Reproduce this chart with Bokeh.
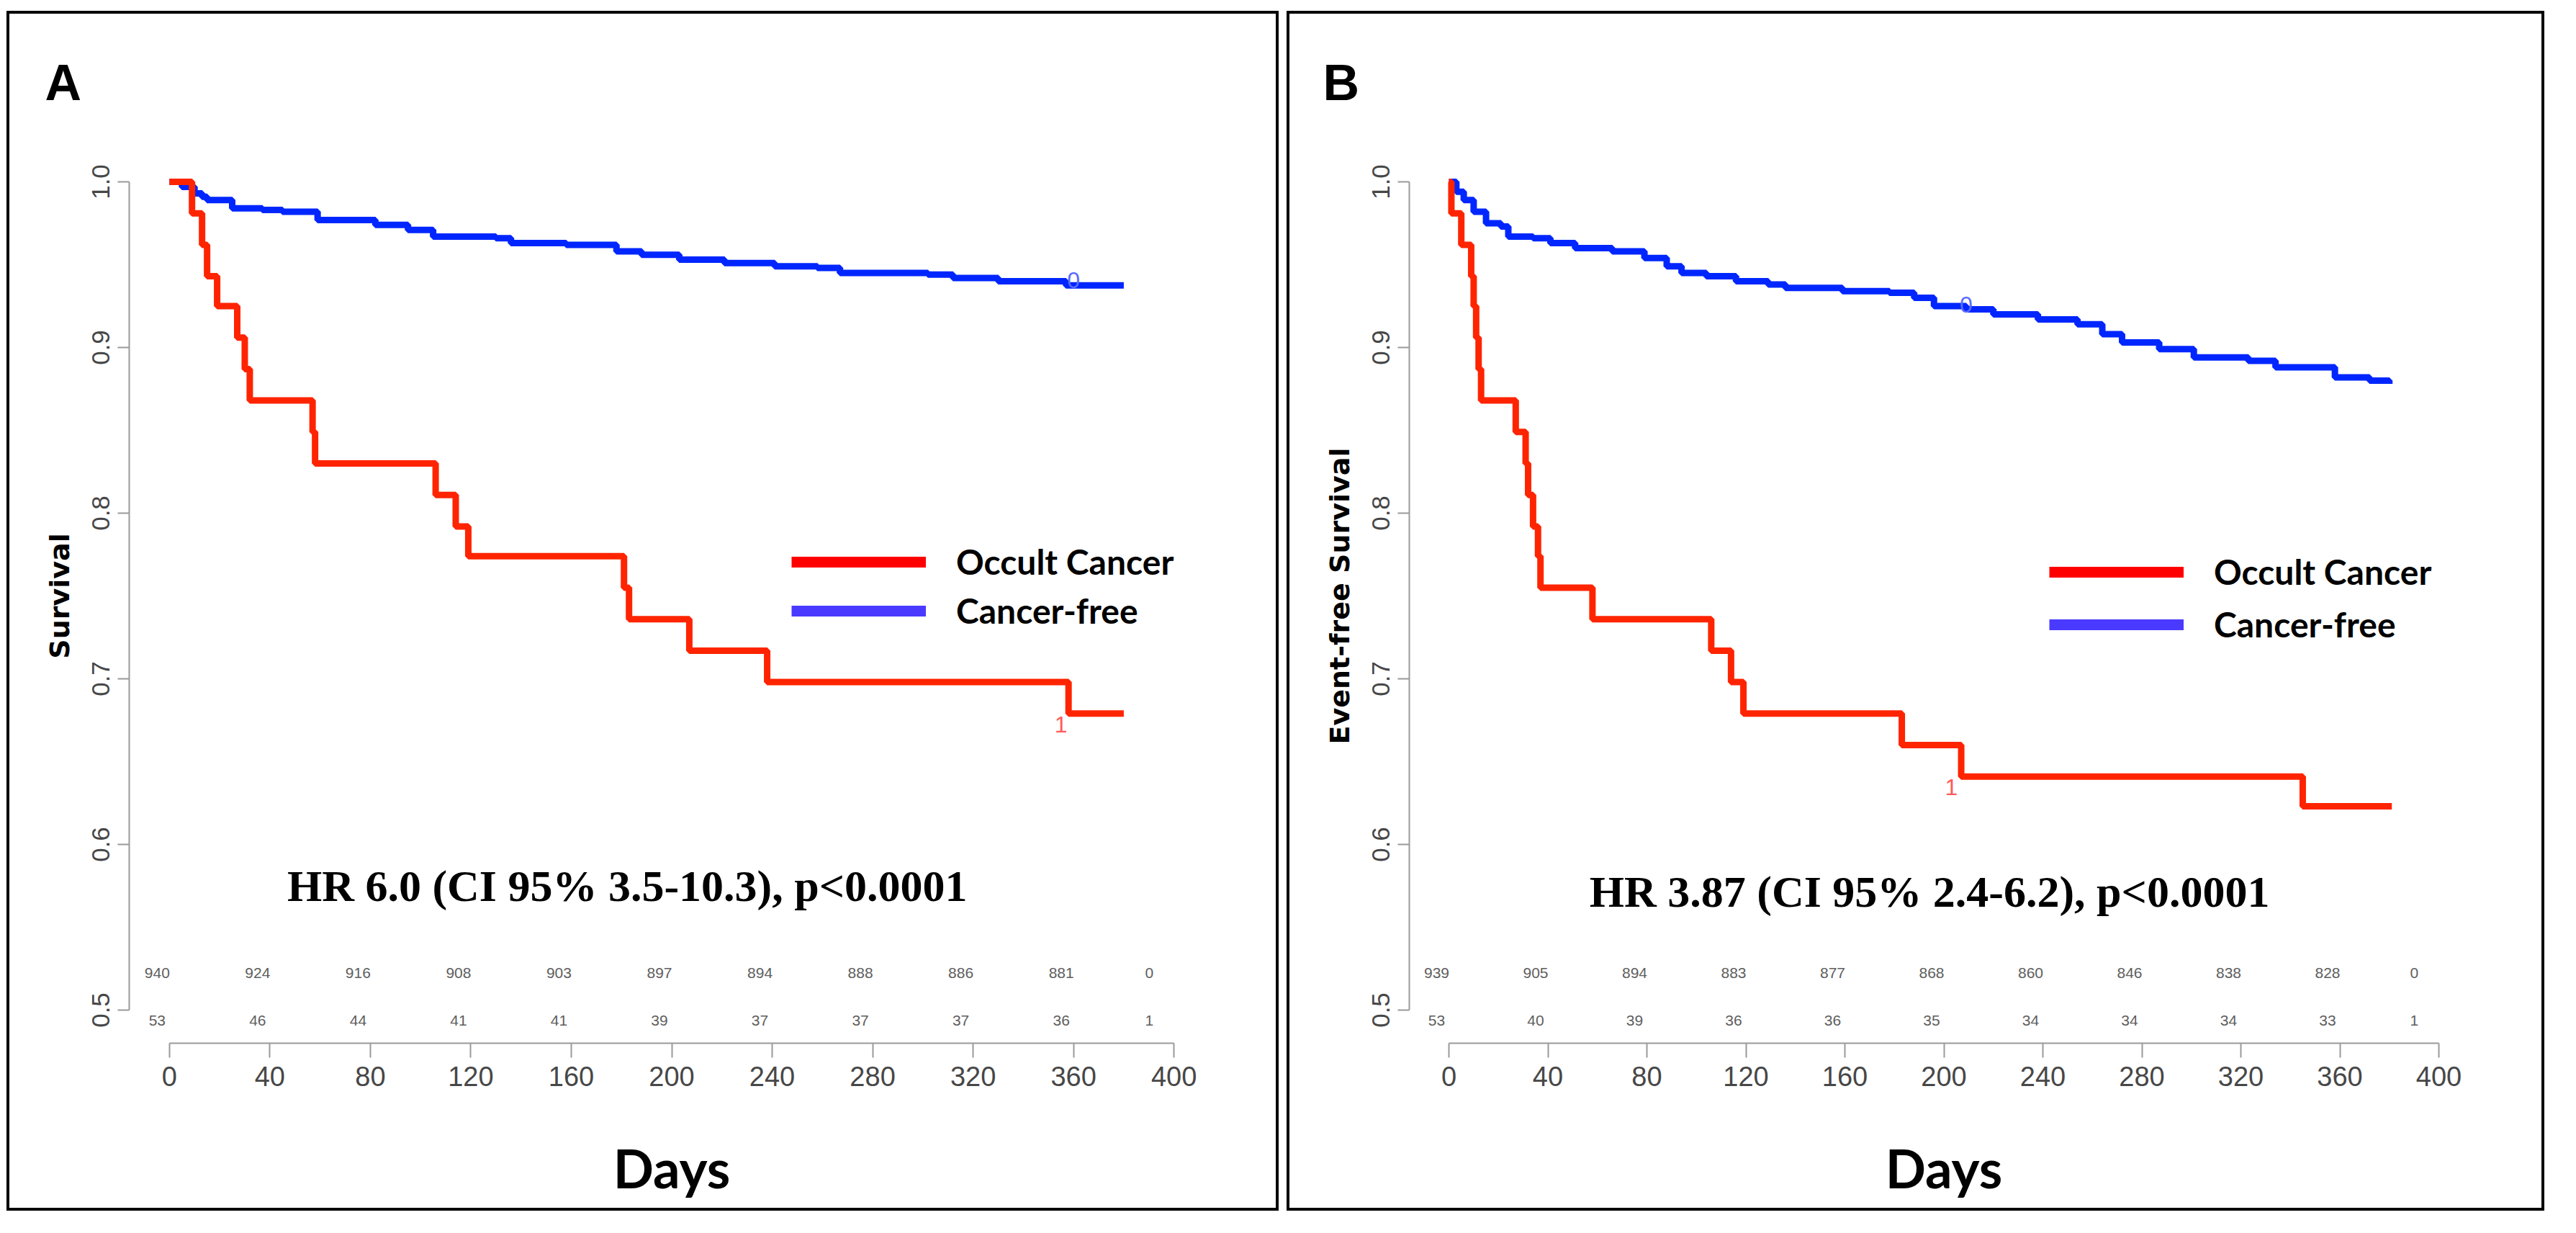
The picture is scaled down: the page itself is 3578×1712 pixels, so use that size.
from bokeh.plotting import figure
from bokeh.models import Range1d, FixedTicker, PrintfTickFormatter, Label, Legend, LegendItem, ColumnDataSource
from bokeh.layouts import row
from bokeh.embed import file_html
from bokeh.resources import INLINE
from bokeh.core.properties import value

# ---------------- data ----------------
day_ticks = [0, 40, 80, 120, 160, 200, 240, 280, 320, 360, 400]
surv_ticks = [0.5, 0.6, 0.7, 0.8, 0.9, 1.0]
risk_days = [0, 40, 80, 120, 160, 200, 240, 280, 320, 360, 395]
series_names = ["Occult Cancer", "Cancer-free"]

# Panel A : overall survival
a_occult_days = [0, 9, 13, 15, 19, 27, 30, 32, 57, 58, 106, 114, 119, 181, 183, 207, 238, 358, 380]
a_occult_surv = [1.0, 0.981, 0.962, 0.943, 0.925, 0.906, 0.887, 0.868, 0.849, 0.830,
                 0.811, 0.792, 0.774, 0.755, 0.736, 0.717, 0.698, 0.679, 0.679]
a_free_days = [0, 5, 10, 13, 15, 25, 37, 45, 59, 82, 95, 105, 130, 136, 158, 178, 188,
               203, 221, 241, 258, 267, 302, 312, 330, 357, 380]
a_free_surv = [1.0, 0.997, 0.993, 0.991, 0.989, 0.984, 0.983, 0.982, 0.977, 0.974, 0.971,
               0.967, 0.966, 0.963, 0.962, 0.958, 0.956, 0.953, 0.951, 0.949, 0.948, 0.945,
               0.944, 0.942, 0.940, 0.9375, 0.9375]
a_risk_free = [940, 924, 916, 908, 903, 897, 894, 888, 886, 881, 0]
a_risk_occult = [53, 46, 44, 41, 41, 39, 37, 37, 37, 36, 1]
a_mark_free = (360, 0.9375)
a_mark_occult = (355, 0.679)
a_hr = "HR 6.0 (CI 95% 3.5-10.3), p<0.0001"

# Panel B : event-free survival
b_occult_days = [0, 1, 5, 9, 10, 11, 12, 13, 27, 31, 32, 34, 36, 37, 58, 106, 114, 119,
                 183, 207, 345, 381]
b_occult_surv = [1.0, 0.981, 0.962, 0.943, 0.925, 0.906, 0.887, 0.868, 0.849, 0.830, 0.811,
                 0.792, 0.774, 0.755, 0.736, 0.717, 0.698, 0.679, 0.660, 0.641, 0.623, 0.623]
b_free_days = [0, 3, 6, 10, 15, 21, 24, 34, 41, 51, 66, 79, 88, 94, 104, 116, 129, 136, 159,
               178, 188, 196, 209, 220, 238, 254, 264, 272, 287, 301, 323, 334, 358, 372, 380]
b_free_surv = [1.0, 0.994, 0.989, 0.982, 0.975, 0.973, 0.967, 0.966, 0.963, 0.960, 0.958,
               0.954, 0.949, 0.945, 0.943, 0.940, 0.938, 0.936, 0.934, 0.933, 0.930, 0.925,
               0.923, 0.920, 0.917, 0.914, 0.908, 0.903, 0.899, 0.894, 0.892, 0.888, 0.882,
               0.880, 0.878]
b_risk_free = [939, 905, 894, 883, 877, 868, 860, 846, 838, 828, 0]
b_risk_occult = [53, 40, 39, 36, 36, 35, 34, 34, 34, 33, 1]
b_mark_free = (209, 0.923)
b_mark_occult = (203, 0.641)
b_hr = "HR 3.87 (CI 95% 2.4-6.2), p<0.0001"

# ---------------- style ----------------
RED = "#ff2400"
BLUE = "#0026ff"
SANS = "Liberation Sans"


def make_panel(letter, ylabel, occ_d, occ_s, free_d, free_s, risk_free, risk_occ,
               mark_free, mark_occ, hr, hr_x, hr_y, width, right, leg_x, leg_y, leg_spacing,
               letter_offset):
    p = figure(width=width, height=1666, x_range=Range1d(-16, 416), y_range=Range1d(0.48, 1.02),
               output_backend="svg", toolbar_location=None,
               min_border_left=166, min_border_right=right, min_border_top=187,
               min_border_bottom=237)
    p.styles = {"border": "4px solid black"}
    p.grid.visible = False
    p.outline_line_color = None
    p.background_fill_color = "white"
    p.border_fill_color = "white"

    # panel letter as title
    p.title.text = letter
    p.title.align = "left"
    p.title.offset = letter_offset
    p.title.standoff = 105
    p.title.text_font = SANS
    p.title.text_font_style = "bold"
    p.title.text_font_size = "70px"
    p.title.text_color = "black"

    for ax in (p.xaxis[0], p.yaxis[0]):
        ax.axis_line_color = "#9a9a9a"
        ax.axis_line_width = 2
        ax.major_tick_line_color = "#9a9a9a"
        ax.major_tick_line_width = 2
        ax.major_tick_in = 0
        ax.minor_tick_line_color = None
        ax.major_label_text_color = "#474747"
        ax.major_label_text_font = SANS

    p.xaxis.ticker = FixedTicker(ticks=day_ticks)
    p.xaxis.bounds = (0, 400)
    p.xaxis.major_tick_out = 20
    p.xaxis.major_label_standoff = 12
    p.xaxis.major_label_text_font_size = "38px"
    p.xaxis.axis_label = "Days"
    p.xaxis.axis_label_text_font = "Lato"
    p.xaxis.axis_label_text_font_style = "bold"
    p.xaxis.axis_label_text_font_size = "74px"
    p.xaxis.axis_label_text_color = "black"
    p.xaxis.axis_label_standoff = 66

    p.yaxis.ticker = FixedTicker(ticks=surv_ticks)
    p.yaxis.formatter = PrintfTickFormatter(format="%.1f")
    p.yaxis.bounds = (0.5, 1.0)
    p.yaxis.major_tick_out = 16
    p.yaxis.major_label_standoff = 12
    p.yaxis.major_label_orientation = "vertical"
    p.yaxis.major_label_text_font_size = "35px"
    p.yaxis.axis_label = ylabel
    p.yaxis.axis_label_text_font = "DejaVu Sans"
    p.yaxis.axis_label_text_font_style = "bold"
    p.yaxis.axis_label_text_font_size = "38px"
    p.yaxis.axis_label_text_color = "black"
    p.yaxis.axis_label_standoff = 20

    # survival curves
    p.step(x=free_d, y=free_s, mode="after", line_color=BLUE, line_width=9)
    p.step(x=occ_d, y=occ_s, mode="after", line_color=RED, line_width=9)

    # curve marks
    p.text(x=[mark_free[0]], y=[mark_free[1]], text=["0"], text_color="#5a6cff",
           text_font=value(SANS), text_font_size="32px",
           text_align="center", text_baseline="alphabetic", y_offset=-7)
    p.text(x=[mark_occ[0]], y=[mark_occ[1]], text=["1"], text_color="#ff5a5a",
           text_font=value(SANS), text_font_size="32px",
           text_align="center", text_baseline="top", y_offset=4)

    # numbers at risk
    src = ColumnDataSource(dict(x=risk_days,
                                y1=[0.5226] * len(risk_days),
                                y2=[0.4939] * len(risk_days),
                                t1=[str(v) for v in risk_free],
                                t2=[str(v) for v in risk_occ]))
    for yk, tk in (("y1", "t1"), ("y2", "t2")):
        p.text(x="x", y=yk, text=tk, source=src, text_color="#5e5e5e",
               text_font=value(SANS), text_font_size="21px",
               text_align="center", text_baseline="alphabetic", x_offset=-17)

    # hazard ratio annotation
    p.add_layout(Label(x=hr_x, y=hr_y, text=hr, text_align="center", text_baseline="alphabetic",
                       text_font="Liberation Serif", text_font_style="bold",
                       text_font_size="62px", text_color="black"))

    # legend (proxy renderers carry the legend line style only)
    nan = float("nan")
    r_occ = p.line(x=[nan], y=[nan], line_color="#ff0000", line_width=15)
    r_free = p.line(x=[nan], y=[nan], line_color="#4a3aff", line_width=15)
    leg = Legend(items=[LegendItem(label=series_names[0], renderers=[r_occ]),
                        LegendItem(label=series_names[1], renderers=[r_free])],
                 location=(leg_x, leg_y), orientation="vertical",
                 glyph_width=187, glyph_height=56, label_height=56, label_standoff=42,
                 spacing=leg_spacing, padding=0, margin=0,
                 label_text_font="Lato", label_text_font_style="bold",
                 label_text_font_size="48px", label_text_color="black",
                 border_line_color=None, background_fill_alpha=0)
    p.add_layout(leg)
    return p


pA = make_panel("A", "Survival", a_occult_days, a_occult_surv, a_free_days, a_free_surv,
                a_risk_free, a_risk_occult, a_mark_free, a_mark_occult, a_hr, 182.3, 0.5748,
                1767, 94, 920, 572, 11, -117)
pB = make_panel("B", "Event-free Survival", b_occult_days, b_occult_surv, b_free_days,
                b_free_surv, b_risk_free, b_risk_occult, b_mark_free, b_mark_occult, b_hr,
                194.2, 0.5717, 1747, 96, 889, 553, 16, -120)
pA.margin = (15, 0, 0, 9)
pB.margin = (15, 0, 0, 11)

layout = row(pA, pB)
open("out.html", "w").write(file_html(layout, INLINE))
